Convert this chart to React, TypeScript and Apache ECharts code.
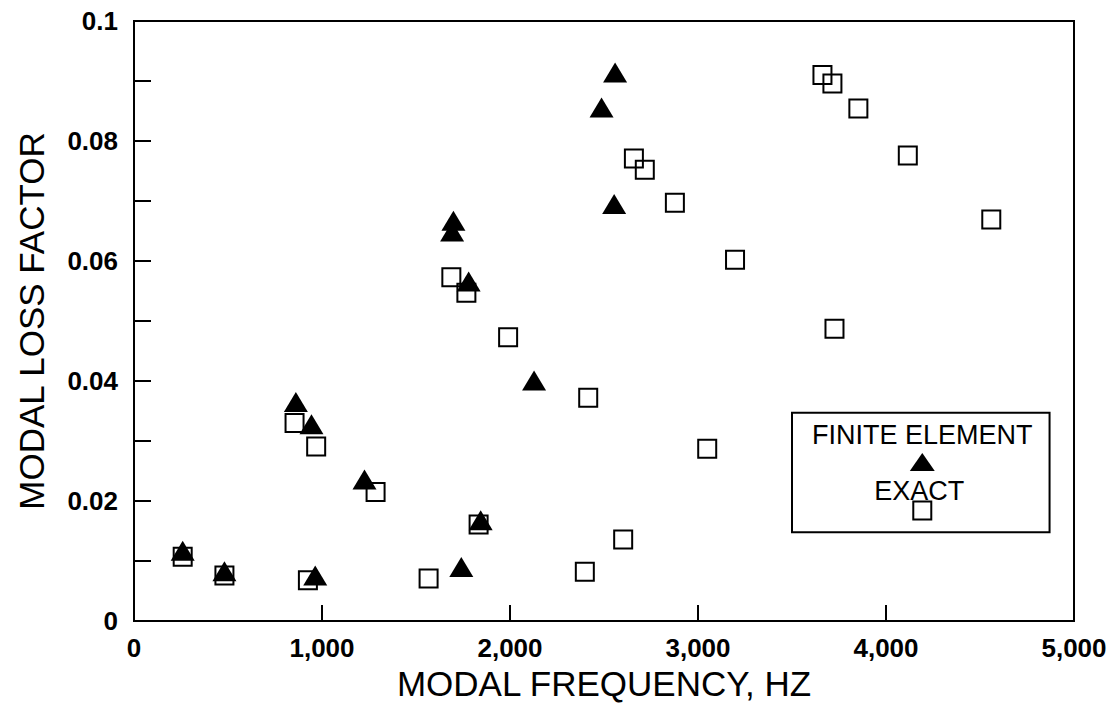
import React, { useEffect, useRef } from "react";
import * as echarts from "echarts";

// Finite element results (filled triangles): [frequency Hz, loss factor]
const finiteElement: [number, number][] = [
  [259, 0.0117],
  [481, 0.0083],
  [861, 0.0365],
  [944, 0.0328],
  [964, 0.0076],
  [1226, 0.0236],
  [1692, 0.0649],
  [1699, 0.0667],
  [1741, 0.009],
  [1780, 0.0566],
  [1844, 0.0168],
  [2128, 0.0401],
  [2487, 0.0856],
  [2554, 0.0695],
  [2559, 0.0914],
];

// Exact results (open squares)
const exact: [number, number][] = [
  [259, 0.0107],
  [481, 0.0076],
  [854, 0.033],
  [925, 0.0068],
  [969, 0.0291],
  [1285, 0.0215],
  [1567, 0.0071],
  [1688, 0.0573],
  [1768, 0.0547],
  [1833, 0.0161],
  [1990, 0.0473],
  [2398, 0.0082],
  [2416, 0.0372],
  [2602, 0.0136],
  [2659, 0.0771],
  [2717, 0.0752],
  [2877, 0.0697],
  [3049, 0.0287],
  [3197, 0.0602],
  [3662, 0.091],
  [3715, 0.0896],
  [3726, 0.0487],
  [3853, 0.0854],
  [4116, 0.0776],
  [4560, 0.0669],
];

// Legend symbols, drawn inside the plot as in the original
const legendFE: [number, number][] = [[4193, 0.0265]];
const legendExact: [number, number][] = [[4193, 0.0184]];
const legendBoxX = [3500, 4870];
const legendBoxY = [0.0148, 0.0347];
const legendNames = ["FINITE ELEMENT", "EXACT"];

const xTickLabels: Record<number, string> = {
  0: "0",
  1000: "1,000",
  2000: "2,000",
  3000: "3,000",
  4000: "4,000",
  5000: "5,000",
};
const yTickLabels: Record<number, string> = {
  0: "0",
  2: "0.02",
  4: "0.04",
  6: "0.06",
  8: "0.08",
  10: "0.1",
};

const xTitle = "MODAL FREQUENCY, HZ";
const yTitle = "MODAL LOSS FACTOR";

const FONT = "'Liberation Sans', Arial, Helvetica, sans-serif";

export default function App() {
  const ref = useRef<HTMLDivElement>(null);

  useEffect(() => {
    if (!ref.current) return;
    const chart = echarts.init(ref.current, null, { renderer: "svg" });
    const tickLabelStyle = {
      color: "#000",
      fontFamily: FONT,
      fontSize: 26,
      fontWeight: "bold" as const,
    };
    const option: any = {
      animation: false,
      backgroundColor: "#fff",
      grid: {
        left: 134,
        right: 40,
        top: 21,
        bottom: 90,
        show: true,
        borderColor: "#000",
        borderWidth: 2,
        backgroundColor: "transparent",
      },
      xAxis: {
        type: "value",
        min: 0,
        max: 5000,
        interval: 1000,
        name: xTitle,
        nameLocation: "middle",
        nameGap: 44,
        nameTextStyle: { color: "#000", fontFamily: FONT, fontSize: 35 },
        axisLine: { show: true, lineStyle: { color: "#000", width: 2 } },
        axisTick: { show: true, inside: true, length: 16, lineStyle: { color: "#000", width: 2 } },
        axisLabel: {
          ...tickLabelStyle,
          margin: 14,
          formatter: (v: number) => xTickLabels[Math.round(v)] ?? "",
        },
        splitLine: { show: false },
      },
      yAxis: {
        type: "value",
        min: 0,
        max: 0.1,
        interval: 0.01,
        name: yTitle,
        nameLocation: "middle",
        nameGap: 85,
        nameTextStyle: { color: "#000", fontFamily: FONT, fontSize: 35 },
        axisLine: { show: true, lineStyle: { color: "#000", width: 2 } },
        axisTick: { show: true, inside: true, length: 17, lineStyle: { color: "#000", width: 2 } },
        axisLabel: {
          ...tickLabelStyle,
          margin: 16,
          formatter: (v: number) => yTickLabels[Math.round(v * 100)] ?? "",
        },
        splitLine: { show: false },
      },
      series: [
        {
          name: "Exact",
          type: "scatter",
          data: exact,
          symbol: "rect",
          symbolSize: 18,
          itemStyle: { color: "rgba(0,0,0,0)", borderColor: "#000", borderWidth: 2, opacity: 1 },
          z: 2,
        },
        {
          name: "Finite element",
          type: "scatter",
          data: finiteElement,
          symbol: "triangle",
          symbolSize: [24, 20],
          itemStyle: { color: "#000", opacity: 1 },
          z: 3,
        },
        {
          name: "legendBox",
          type: "scatter",
          data: [],
          markArea: {
            silent: true,
            itemStyle: { color: "#fff", borderColor: "#000", borderWidth: 2, opacity: 1 },
            data: [[{ coord: [legendBoxX[0], legendBoxY[1]] }, { coord: [legendBoxX[1], legendBoxY[0]] }]],
          },
          z: 4,
        },
        {
          name: "legendFE",
          type: "scatter",
          data: legendFE,
          symbol: "triangle",
          symbolSize: [25, 18],
          itemStyle: { color: "#000", opacity: 1 },
          label: {
            show: true,
            position: "top",
            distance: 5,
            formatter: () => legendNames[0],
            color: "#000",
            fontFamily: FONT,
            fontSize: 27,
          },
          z: 5,
        },
        {
          name: "legendExact",
          type: "scatter",
          data: legendExact,
          symbol: "rect",
          symbolSize: 18,
          itemStyle: { color: "rgba(0,0,0,0)", borderColor: "#000", borderWidth: 2, opacity: 1 },
          label: {
            show: true,
            position: "top",
            distance: -4,
            offset: [-3, 0],
            formatter: () => legendNames[1],
            color: "#000",
            fontFamily: FONT,
            fontSize: 27,
          },
          z: 5,
        },
      ],
    };
    chart.setOption(option);
    return () => chart.dispose();
  }, []);

  return (
    <div
      ref={ref}
      style={{ position: "fixed", left: 0, top: 0, width: 1114, height: 711, background: "#fff" }}
    />
  );
}
